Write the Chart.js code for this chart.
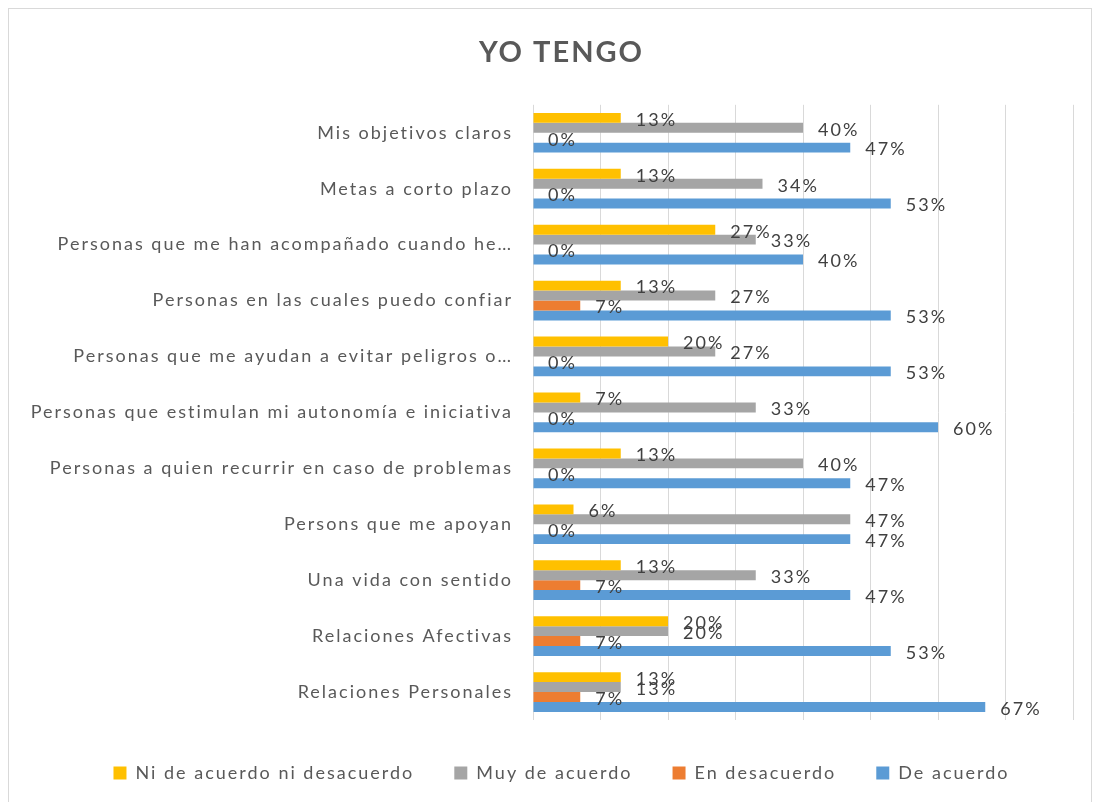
<!DOCTYPE html>
<html>
<head>
<meta charset="utf-8">
<script src="https://cdn.jsdelivr.net/npm/chart.js@4.4.0/dist/chart.umd.min.js"></script>
<style>
  body { margin: 0; background: #fff; }
  #wrap { position: relative; width: 1100px; height: 802px; }
  #marco { position: absolute; left: 8px; top: 8px; width: 1084px; height: 810px; border: 1px solid #d9d9d9; box-sizing: border-box; }
  canvas { position: absolute; left: 0; top: 0; }
</style>
</head>
<body>
<div id="wrap">
  <div id="marco"></div>
  <canvas id="grafico" width="1100" height="802"></canvas>
</div>
<script>
const categorias = [
  'Mis objetivos claros',
  'Metas a corto plazo',
  'Personas que me han acompañado cuando he…',
  'Personas en las cuales puedo confiar',
  'Personas que me ayudan a evitar peligros o…',
  'Personas que estimulan mi autonomía e iniciativa',
  'Personas a quien recurrir en caso de problemas',
  'Persons que me apoyan',
  'Una vida con sentido',
  'Relaciones Afectivas',
  'Relaciones Personales'
];

const niDeAcuerdo = [13, 13, 27, 13, 20, 7, 13, 6, 13, 20, 13];
const muyDeAcuerdo = [40, 34, 33, 27, 27, 33, 40, 47, 33, 20, 13];
const enDesacuerdo = [0, 0, 0, 7, 0, 0, 0, 0, 7, 7, 7];
const deAcuerdo = [47, 53, 40, 53, 53, 60, 47, 47, 47, 53, 67];

const ticksX = [0, 10, 20, 30, 40, 50, 60, 70, 80];

const fuente = 'Lato, "Open Sans", sans-serif';

// el texto de Excel sale mas espaciado, se imita con letterSpacing
// (tambien al medir, para que la leyenda quepa en una linea)
const espaciado = {
  id: 'espaciado',
  beforeLayout(chart) {
    chart.ctx.letterSpacing = '2px';
  },
  beforeDraw(chart) {
    chart.ctx.letterSpacing = '2px';
    // no recortar las etiquetas largas del eje y
    chart.scales.y._computeLabelArea = () => undefined;
  }
};

// etiquetas de datos al final de cada barra (como en Excel)
const etiquetasBarras = {
  id: 'etiquetasBarras',
  afterDatasetsDraw(chart) {
    const ctx = chart.ctx;
    ctx.save();
    ctx.font = '18px ' + fuente;
    ctx.fillStyle = '#404040';
    ctx.textAlign = 'left';
    ctx.textBaseline = 'middle';
    chart.data.datasets.forEach((ds, i) => {
      const meta = chart.getDatasetMeta(i);
      meta.data.forEach((bar, j) => {
        ctx.fillText(ds.data[j] + '%', bar.x + 15, bar.y + 2);
      });
    });
    ctx.restore();
  }
};

const ctx = document.getElementById('grafico').getContext('2d');

new Chart(ctx, {
  type: 'bar',
  data: {
    labels: categorias,
    datasets: [
      { label: 'Ni de acuerdo ni desacuerdo', data: niDeAcuerdo, backgroundColor: '#FFC000' },
      { label: 'Muy de acuerdo', data: muyDeAcuerdo, backgroundColor: '#A5A5A5' },
      { label: 'En desacuerdo', data: enDesacuerdo, backgroundColor: '#ED7D31' },
      { label: 'De acuerdo', data: deAcuerdo, backgroundColor: '#5B9BD5' }
    ]
  },
  options: {
    indexAxis: 'y',
    responsive: false,
    animation: false,
    categoryPercentage: 0.71,
    barPercentage: 1,
    layout: { padding: { left: 50, right: 27, top: 35, bottom: 10 } },
    plugins: {
      title: {
        display: true,
        text: 'YO TENGO',
        color: '#595959',
        font: { family: fuente, size: 29, weight: 'bold' },
        padding: { top: 0, bottom: 35 }
      },
      legend: {
        position: 'bottom',
        labels: {
          color: '#595959',
          font: { family: fuente, size: 18 },
          boxWidth: 13,
          boxHeight: 13,
          padding: 40
        }
      },
      tooltip: { enabled: false }
    },
    scales: {
      x: {
        min: 0,
        max: 80,
        afterBuildTicks: (scale) => { scale.ticks = ticksX.map(v => ({ value: v })); },
        afterFit: (scale) => { scale.height = 4; },
        ticks: { display: false },
        grid: { color: '#d9d9d9', lineWidth: 1, drawTicks: false },
        border: { display: false }
      },
      y: {
        afterFit: (scale) => { scale.width = 483; },
        ticks: {
          color: '#595959',
          font: { family: fuente, size: 18 },
          padding: 20,
          autoSkip: false
        },
        grid: { display: false, drawTicks: false },
        border: { display: false }
      }
    }
  },
  plugins: [espaciado, etiquetasBarras]
});
</script>
</body>
</html>
